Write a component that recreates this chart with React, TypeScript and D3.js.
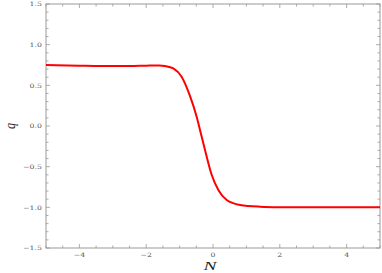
import { useEffect, useRef } from "react";
import * as d3 from "d3";

// q(N)
const nValues = [-5, -4, -3, -2.5, -2, -1.6, -1.44, -1.19, -0.94, -0.69, -0.49, -0.34, -0.19, -0.04, 0.16, 0.41, 0.81, 1.41, 2, 3, 4, 5];
const qValues = [0.75, 0.742, 0.737, 0.737, 0.742, 0.745, 0.738, 0.709, 0.606, 0.37, 0.115, -0.13, -0.376, -0.6, -0.787, -0.91, -0.971, -0.992, -0.998, -1.0, -1.0, -1.0];

const xMajorTicks = [-4, -2, 0, 2, 4];
const yMajorTicks = [-1.5, -1.0, -0.5, 0.0, 0.5, 1.0, 1.5];

const App = () => {
  const svgRef = useRef<SVGSVGElement | null>(null);

  useEffect(() => {
    const svg = d3.select(svgRef.current);
    svg.selectAll("*").remove();

    const width = 382;
    const height = 273;
    const margin = { top: 4, right: 2, bottom: 25, left: 46 };
    const frame = "#999";
    const labelColor = "#555";

    const x = d3.scaleLinear().domain([-5, 5]).range([margin.left, width - margin.right]);
    const y = d3.scaleLinear().domain([-1.5, 1.5]).range([height - margin.bottom, margin.top]);

    const x0 = x.range()[0], x1 = x.range()[1];
    const y0 = y.range()[0], y1 = y.range()[1];

    // Frame
    svg
      .append("rect")
      .attr("x", x0)
      .attr("y", y1)
      .attr("width", x1 - x0)
      .attr("height", y0 - y1)
      .attr("fill", "none")
      .attr("stroke", frame)
      .attr("stroke-width", 1);

    // Ticks on all four sides, pointing inward
    const xTicks = d3.range(-5, 5.001, 0.5);
    const yTicks = d3.range(-1.5, 1.5001, 0.1);
    const isMajorX = (v: number) => xMajorTicks.some((t) => Math.abs(t - v) < 1e-6);
    const isMajorY = (v: number) => yMajorTicks.some((t) => Math.abs(t - v) < 1e-6);

    const ticks = svg.append("g").attr("stroke", frame).attr("stroke-width", 0.8);
    xTicks.forEach((v) => {
      const len = isMajorX(v) ? 4 : 2.5;
      ticks.append("line").attr("x1", x(v)).attr("x2", x(v)).attr("y1", y0).attr("y2", y0 - len);
      ticks.append("line").attr("x1", x(v)).attr("x2", x(v)).attr("y1", y1).attr("y2", y1 + len);
    });
    yTicks.forEach((v) => {
      const len = isMajorY(v) ? 4 : 2.5;
      ticks.append("line").attr("x1", x0).attr("x2", x0 + len).attr("y1", y(v)).attr("y2", y(v));
      ticks.append("line").attr("x1", x1).attr("x2", x1 - len).attr("y1", y(v)).attr("y2", y(v));
    });

    const fmt = (v: number, digits: number) => v.toFixed(digits).replace("-", "\u2212");

    // Tick labels (the reference is stretched horizontally)
    svg
      .append("g")
      .selectAll("text")
      .data(xMajorTicks)
      .join("text")
      .attr("transform", (d) => `translate(${x(d)},${y0 + 9}) scale(1.3,1)`)
      .attr("text-anchor", "middle")
      .attr("font-family", "DejaVu Serif, serif")
      .attr("font-size", 6)
      .attr("fill", labelColor)
      .text((d) => fmt(d, 0));

    svg
      .append("g")
      .selectAll("text")
      .data(yMajorTicks)
      .join("text")
      .attr("transform", (d) => `translate(${x0 - 4},${y(d) + 2.2}) scale(1.3,1)`)
      .attr("text-anchor", "end")
      .attr("font-family", "DejaVu Serif, serif")
      .attr("font-size", 6)
      .attr("fill", labelColor)
      .text((d) => fmt(d, 1));

    // Curve
    const pts = nValues.map((n, i) => [n, qValues[i]] as [number, number]);
    const line = d3
      .line<[number, number]>()
      .x((d) => x(d[0]))
      .y((d) => y(d[1]))
      .curve(d3.curveMonotoneX);

    svg
      .append("path")
      .datum(pts)
      .attr("fill", "none")
      .attr("stroke", "#f00")
      .attr("stroke-width", 2)
      .attr("d", line);

    // Axis labels
    svg
      .append("text")
      .attr("transform", `translate(${x(0) - 3},269.5) scale(1.5,1)`)
      .attr("text-anchor", "middle")
      .attr("font-family", "Liberation Serif, serif")
      .attr("font-style", "italic")
      .attr("font-size", 13)
      .attr("fill", "#222")
      .text("N");

    svg
      .append("text")
      .attr("transform", `translate(15,${y(0)}) scale(1.3,1) rotate(-90)`)
      .attr("text-anchor", "middle")
      .attr("font-family", "Liberation Serif, serif")
      .attr("font-style", "italic")
      .attr("font-size", 12)
      .attr("fill", "#222")
      .text("q");
  }, []);

  return (
    <svg
      ref={svgRef}
      width={382}
      height={273}
      style={{ position: "absolute", left: 0, top: 0, background: "#fff" }}
    />
  );
};

export default App;
